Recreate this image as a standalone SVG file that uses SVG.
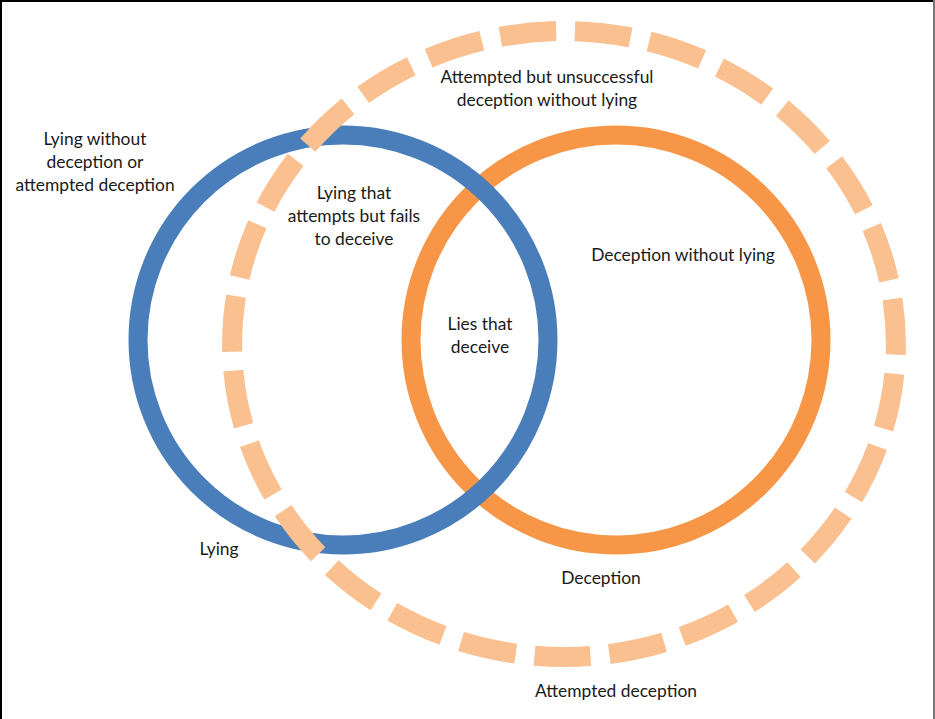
<svg xmlns="http://www.w3.org/2000/svg" width="935" height="719" viewBox="0 0 935 719">
<style>
.t{font-family:Lato,"Liberation Sans",sans-serif;font-size:17.4px;fill:#1a1a1a;text-anchor:middle}
.ring{fill:none}
</style>
<rect x="0" y="0" width="935" height="719" fill="#fff"/>
<g id="frame">
<line x1="0" y1="1" x2="935" y2="1" stroke="#000" stroke-width="2"/>
<line x1="1" y1="0" x2="1" y2="719" stroke="#000" stroke-width="2"/>
<line x1="934" y1="0" x2="934" y2="719" stroke="#777" stroke-width="2"/>
</g>
<g id="deception">
<circle class="ring" cx="616" cy="340" r="205" stroke="#F79646" stroke-width="19"/>
</g>
<g id="lying">
<circle class="ring" cx="343" cy="340" r="205" stroke="#4A7EBB" stroke-width="19"/>
</g>
<g id="attempted-deception">
<path class="ring" d="M564,31 A332,313 0 0 1 564,657 A332,313 0 0 1 564,31 Z" pathLength="2025" stroke="#FAC090" stroke-width="20" stroke-dasharray="56 19" stroke-dashoffset="64"/>
</g>
<g id="labels">
<text class="t" x="547" y="83">Attempted but unsuccessful</text>
<text class="t" x="547" y="106">deception without lying</text>
<text class="t" x="95" y="145">Lying without</text>
<text class="t" x="95" y="168">deception or</text>
<text class="t" x="95" y="191">attempted deception</text>
<text class="t" x="354" y="199">Lying that</text>
<text class="t" x="354" y="222">attempts but fails</text>
<text class="t" x="354" y="245">to deceive</text>
<text class="t" x="683" y="261">Deception without lying</text>
<text class="t" x="480" y="330">Lies that</text>
<text class="t" x="480" y="353">deceive</text>
<text class="t" x="219" y="555">Lying</text>
<text class="t" x="601" y="584">Deception</text>
<text class="t" x="616" y="697">Attempted deception</text>
</g>
</svg>
